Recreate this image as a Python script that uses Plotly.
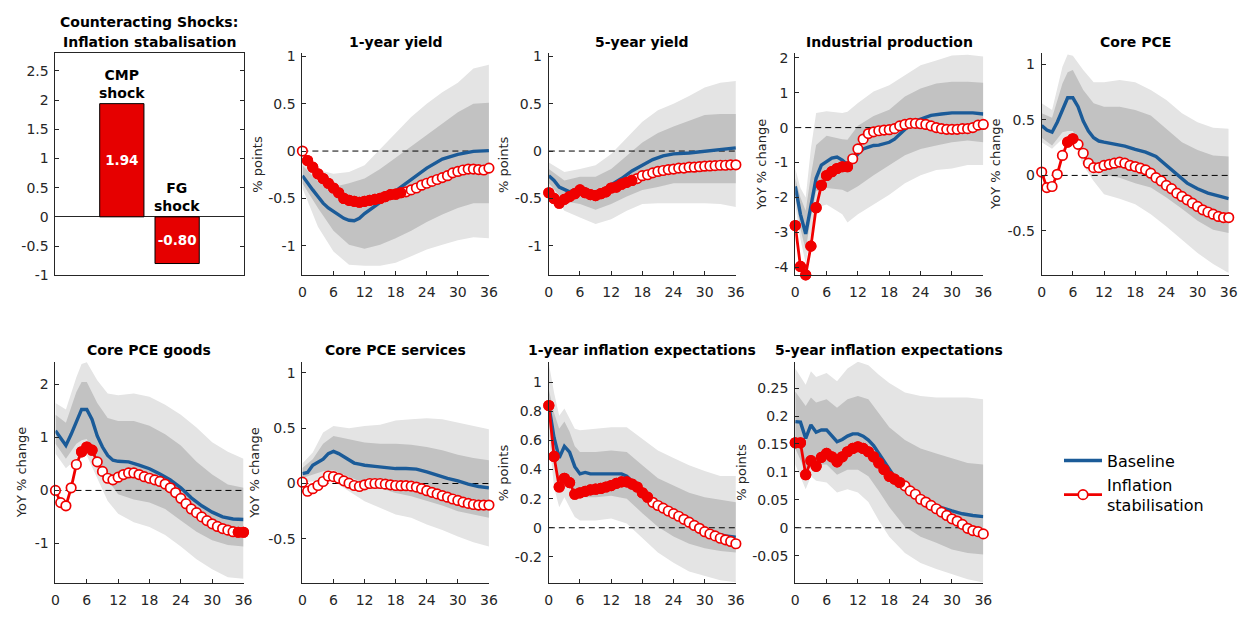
import plotly.graph_objects as go

W, H = 1259, 617
months = list(range(37))
x_ticks = [0, 6, 12, 18, 24, 30, 36]

# ---------------- Counteracting shocks (bar panel) ----------------
shock_labels = ["CMP<br>shock", "FG<br>shock"]
shock_values = [1.94, -0.80]
shock_pos = [1, 2]
shock_ticks = [-1, -0.5, 0, 0.5, 1, 1.5, 2, 2.5]

# ---------------- 1-year yield ----------------
y1_base_x = [0, 1, 2, 3, 4, 5, 6, 7, 8, 9, 10, 11, 12, 14, 16, 18, 20, 22, 24, 27, 30, 33, 36]
y1_base = [-0.26, -0.34, -0.41, -0.48, -0.55, -0.60, -0.64, -0.67, -0.71, -0.73, -0.735, -0.71, -0.66,
           -0.58, -0.50, -0.41, -0.34, -0.26, -0.18, -0.085, -0.035, -0.003, 0.005]
y1_band_x = [0, 3, 6, 9, 12, 15, 18, 21, 24, 27, 30, 33, 36]
y1_out_hi = [-0.085, -0.20, -0.24, -0.22, -0.15, 0.02, 0.19, 0.36, 0.50, 0.62, 0.72, 0.87, 0.91]
y1_in_hi = [-0.15, -0.32, -0.38, -0.34, -0.29, -0.19, -0.07, 0.05, 0.17, 0.29, 0.41, 0.50, 0.51]
y1_in_lo = [-0.34, -0.60, -0.84, -0.99, -1.03, -0.99, -0.92, -0.84, -0.75, -0.67, -0.60, -0.55, -0.55]
y1_out_lo = [-0.39, -0.80, -1.06, -1.20, -1.21, -1.21, -1.18, -1.11, -1.04, -0.99, -0.94, -0.91, -0.92]
y1_stab = [0.0, -0.10, -0.17, -0.24, -0.29, -0.34, -0.39, -0.44, -0.50, -0.52, -0.53, -0.54, -0.53,
           -0.52, -0.51, -0.50, -0.48, -0.46, -0.455, -0.44, -0.43, -0.41, -0.39, -0.36, -0.34,
           -0.32, -0.30, -0.28, -0.26, -0.23, -0.215, -0.20, -0.19, -0.19, -0.195, -0.20, -0.18]
y1_filled = list(range(1, 20))

# ---------------- 5-year yield ----------------
y5_base_x = [0, 1, 2, 3, 4, 5, 6, 7, 8, 9, 10, 11, 12, 14, 16, 18, 20, 22, 24, 27, 30, 33, 36]
y5_base = [-0.26, -0.31, -0.38, -0.41, -0.43, -0.41, -0.39, -0.40, -0.43, -0.43, -0.42, -0.39, -0.36,
           -0.29, -0.21, -0.15, -0.09, -0.05, -0.03, -0.02, 0.0, 0.017, 0.034]
y5_band_x = [0, 3, 6, 9, 12, 15, 18, 21, 24, 27, 30, 33, 36]
y5_out_hi = [-0.12, -0.22, -0.19, -0.15, -0.03, 0.14, 0.31, 0.43, 0.50, 0.58, 0.67, 0.72, 0.74]
y5_in_hi = [-0.19, -0.31, -0.27, -0.27, -0.19, -0.05, 0.09, 0.19, 0.26, 0.32, 0.38, 0.39, 0.39]
y5_in_lo = [-0.34, -0.53, -0.56, -0.62, -0.56, -0.48, -0.41, -0.38, -0.34, -0.34, -0.34, -0.34, -0.34]
y5_out_lo = [-0.41, -0.63, -0.70, -0.77, -0.72, -0.63, -0.56, -0.55, -0.55, -0.55, -0.55, -0.56, -0.59]
y5_stab = [-0.44, -0.50, -0.55, -0.51, -0.48, -0.45, -0.41, -0.44, -0.46, -0.47, -0.45, -0.43, -0.39,
           -0.38, -0.35, -0.33, -0.31, -0.29, -0.26, -0.25, -0.23, -0.215, -0.205, -0.195, -0.19,
           -0.18, -0.18, -0.17, -0.17, -0.165, -0.16, -0.157, -0.154, -0.15, -0.15, -0.145, -0.145]
y5_filled = list(range(0, 17))

# ---------------- Industrial production ----------------
ip_base_x = [0, 1, 2, 3, 4, 5, 6, 7, 8, 9, 10, 11, 12, 13, 14, 15, 16, 17, 18, 19, 20, 21, 22, 23, 24,
             26, 28, 30, 32, 34, 36]
ip_base = [-1.68, -2.48, -3.04, -2.20, -1.45, -1.07, -0.96, -0.87, -0.84, -0.93, -1.06, -0.93, -0.75,
           -0.61, -0.56, -0.51, -0.50, -0.47, -0.42, -0.33, -0.19, -0.05, 0.09, 0.19, 0.25,
           0.35, 0.39, 0.42, 0.42, 0.42, 0.39]
ip_band_x = [0, 1, 2, 3, 4, 6, 9, 10, 12, 15, 18, 21, 24, 27, 30, 33, 36]
ip_out_hi = [-1.17, -1.73, -2.0, -0.6, 0.42, 0.47, 0.42, 0.45, 0.70, 1.03, 1.21, 1.50, 1.78, 1.92, 2.06, 2.08, 2.03]
ip_in_hi = [-1.45, -2.0, -2.38, -1.36, -0.5, -0.23, -0.33, -0.35, 0.05, 0.33, 0.51, 0.89, 1.12, 1.26, 1.31, 1.31, 1.28]
ip_in_lo = [-1.92, -2.9, -3.50, -2.57, -1.82, -1.73, -1.78, -1.85, -1.68, -1.36, -1.07, -0.79, -0.61, -0.51, -0.42, -0.37, -0.42]
ip_out_lo = [-2.20, -3.2, -3.88, -3.04, -2.29, -2.20, -2.48, -2.71, -2.48, -2.20, -1.92, -1.59, -1.36, -1.21, -1.17, -1.07, -1.07]
ip_stab = [-2.80, -3.97, -4.21, -3.39, -2.29, -1.65, -1.37, -1.26, -1.17, -1.12, -1.12, -0.89, -0.61,
           -0.33, -0.17, -0.12, -0.09, -0.07, -0.06, -0.03, 0.05, 0.09, 0.12, 0.12, 0.11, 0.09,
           0.05, 0.0, -0.03, -0.05, -0.05, -0.05, -0.03, -0.03, 0.0, 0.07, 0.09]
ip_filled = list(range(0, 11))

# ---------------- Core PCE ----------------
pce_base_x = [0, 1, 2, 3, 4, 5, 6, 7, 8, 9, 10, 11, 12, 14, 16, 18, 20, 22, 24, 26, 28, 30, 32, 34, 36]
pce_base = [0.45, 0.41, 0.39, 0.48, 0.59, 0.70, 0.70, 0.62, 0.49, 0.40, 0.34, 0.31, 0.30,
            0.285, 0.265, 0.235, 0.21, 0.17, 0.09, 0.006, -0.07, -0.12, -0.16, -0.185, -0.21]
pce_band_x = [0, 2, 4, 5, 6, 8, 10, 12, 15, 18, 21, 24, 27, 30, 33, 36]
pce_out_hi = [0.65, 0.59, 0.98, 1.09, 1.08, 0.95, 0.84, 0.84, 0.86, 0.84, 0.77, 0.68, 0.56, 0.48, 0.43, 0.42]
pce_in_hi = [0.56, 0.52, 0.83, 0.93, 0.95, 0.77, 0.65, 0.62, 0.62, 0.59, 0.54, 0.42, 0.30, 0.23, 0.18, 0.17]
pce_in_lo = [0.34, 0.27, 0.39, 0.40, 0.40, 0.23, 0.09, 0.006, -0.02, -0.07, -0.11, -0.20, -0.30, -0.41, -0.49, -0.52]
pce_out_lo = [0.30, 0.24, 0.33, 0.33, 0.33, 0.09, -0.05, -0.17, -0.21, -0.26, -0.35, -0.46, -0.58, -0.70, -0.80, -0.88]
pce_stab = [0.03, -0.11, -0.10, 0.01, 0.18, 0.30, 0.33, 0.28, 0.20, 0.11, 0.07, 0.07, 0.09, 0.10,
            0.11, 0.12, 0.11, 0.09, 0.08, 0.065, 0.05, 0.02, -0.02, -0.05, -0.09, -0.12, -0.16,
            -0.19, -0.22, -0.25, -0.28, -0.31, -0.33, -0.35, -0.37, -0.38, -0.38]
pce_filled = [5, 6]

# ---------------- Core PCE goods ----------------
gds_base_x = [0, 1, 2, 3, 4, 5, 6, 7, 8, 9, 10, 11, 12, 14, 16, 18, 20, 22, 24, 26, 28, 30, 32, 34, 36]
gds_base = [1.13, 1.00, 0.85, 1.06, 1.31, 1.53, 1.53, 1.34, 1.03, 0.82, 0.66, 0.57, 0.55,
            0.54, 0.48, 0.41, 0.31, 0.20, 0.05, -0.14, -0.29, -0.41, -0.50, -0.54, -0.55]
gds_band_x = [0, 2, 4, 5, 6, 8, 10, 12, 15, 18, 21, 24, 27, 30, 33, 36]
gds_out_hi = [1.65, 1.53, 2.14, 2.39, 2.42, 2.08, 1.83, 1.80, 1.83, 1.77, 1.62, 1.43, 1.19, 0.91, 0.73, 0.60]
gds_in_hi = [1.43, 1.28, 1.86, 2.05, 2.05, 1.65, 1.37, 1.31, 1.31, 1.22, 1.06, 0.85, 0.54, 0.30, 0.11, 0.05]
gds_in_lo = [0.88, 0.60, 0.88, 0.95, 0.97, 0.54, 0.20, -0.07, -0.17, -0.23, -0.35, -0.57, -0.78, -0.94, -1.03, -1.06]
gds_out_lo = [0.70, 0.42, 0.60, 0.64, 0.66, 0.23, -0.20, -0.44, -0.60, -0.69, -0.84, -1.06, -1.30, -1.49, -1.64, -1.67]
gds_stab = [0.0, -0.23, -0.29, 0.05, 0.49, 0.73, 0.82, 0.76, 0.54, 0.36, 0.23, 0.20, 0.25, 0.30,
            0.33, 0.33, 0.30, 0.26, 0.23, 0.20, 0.17, 0.12, 0.05, -0.04, -0.15, -0.25, -0.35,
            -0.42, -0.50, -0.57, -0.63, -0.68, -0.72, -0.75, -0.78, -0.79, -0.79]
gds_filled = [5, 6, 7, 35, 36]

# ---------------- Core PCE services ----------------
srv_base_x = [0, 1, 2, 3, 4, 5, 6, 7, 8, 9, 10, 11, 12, 14, 16, 18, 20, 22, 24, 26, 28, 30, 32, 34, 36]
srv_base = [0.09, 0.10, 0.165, 0.195, 0.22, 0.27, 0.29, 0.27, 0.24, 0.21, 0.185, 0.175, 0.165,
            0.155, 0.145, 0.135, 0.135, 0.13, 0.105, 0.075, 0.047, 0.024, -0.006, -0.027, -0.04]
srv_band_x = [0, 2, 4, 6, 9, 12, 15, 18, 21, 24, 27, 30, 33, 36]
srv_out_hi = [0.18, 0.28, 0.46, 0.52, 0.50, 0.52, 0.53, 0.57, 0.58, 0.59, 0.58, 0.55, 0.52, 0.49]
srv_in_hi = [0.14, 0.22, 0.36, 0.43, 0.40, 0.37, 0.36, 0.36, 0.35, 0.33, 0.30, 0.26, 0.23, 0.21]
srv_in_lo = [0.05, 0.08, 0.11, 0.12, 0.06, 0.003, -0.04, -0.085, -0.115, -0.16, -0.20, -0.25, -0.28, -0.31]
srv_out_lo = [0.003, 0.02, 0.03, 0.02, -0.07, -0.16, -0.22, -0.28, -0.31, -0.37, -0.42, -0.48, -0.53, -0.57]
srv_stab = [0.012, -0.07, -0.047, -0.018, 0.018, 0.068, 0.062, 0.047, 0.024, 0.003, -0.018, -0.027,
            -0.012, 0.0, 0.0, 0.0, -0.006, -0.012, -0.018, -0.02, -0.02, -0.024, -0.032, -0.047,
            -0.065, -0.08, -0.094, -0.11, -0.124, -0.14, -0.153, -0.168, -0.18, -0.19, -0.195,
            -0.195, -0.195]
srv_filled = []

# ---------------- 1-year inflation expectations ----------------
ie1_base_x = [0, 1, 2, 3, 4, 5, 6, 7, 8, 10, 12, 14, 15, 16, 17, 18, 20, 22, 24, 26, 28, 30, 32, 34, 36]
ie1_base = [0.84, 0.62, 0.48, 0.56, 0.52, 0.42, 0.37, 0.38, 0.37, 0.37, 0.37, 0.37, 0.355, 0.32,
            0.29, 0.25, 0.19, 0.14, 0.10, 0.063, 0.025, -0.011, -0.038, -0.056, -0.065]
ie1_band_x = [0, 1, 2, 3, 4, 5, 6, 9, 12, 15, 18, 21, 24, 27, 30, 33, 36]
ie1_out_hi = [1.13, 0.93, 0.77, 0.82, 0.75, 0.68, 0.67, 0.68, 0.69, 0.69, 0.61, 0.53, 0.48, 0.43, 0.39, 0.355, 0.355]
ie1_in_hi = [0.95, 0.79, 0.68, 0.73, 0.66, 0.56, 0.52, 0.52, 0.53, 0.52, 0.43, 0.34, 0.29, 0.24, 0.21, 0.19, 0.175]
ie1_in_lo = [0.73, 0.43, 0.32, 0.37, 0.31, 0.23, 0.21, 0.21, 0.22, 0.20, 0.10, 0.007, -0.06, -0.11, -0.14, -0.16, -0.17]
ie1_out_lo = [0.64, 0.28, 0.14, 0.21, 0.14, 0.074, 0.05, 0.05, 0.063, 0.03, -0.07, -0.17, -0.24, -0.30, -0.33, -0.36, -0.375]
ie1_stab = [0.84, 0.49, 0.28, 0.34, 0.31, 0.23, 0.24, 0.25, 0.26, 0.265, 0.27, 0.28, 0.29, 0.305,
            0.315, 0.315, 0.30, 0.28, 0.24, 0.21, 0.175, 0.153, 0.135, 0.115, 0.097, 0.079,
            0.058, 0.038, 0.016, -0.004, -0.027, -0.043, -0.056, -0.072, -0.083, -0.094, -0.11]
ie1_filled = list(range(0, 20))

# ---------------- 5-year inflation expectations ----------------
ie5_base_x = [0, 1, 2, 3, 4, 5, 6, 7, 8, 9, 10, 11, 12, 13, 14, 15, 16, 17, 18, 19, 20,
              22, 24, 26, 28, 30, 32, 34, 36]
ie5_base = [0.19, 0.189, 0.16, 0.184, 0.171, 0.175, 0.175, 0.165, 0.154, 0.158, 0.164, 0.168,
            0.168, 0.164, 0.157, 0.147, 0.133, 0.119, 0.104, 0.091, 0.079, 0.063, 0.051, 0.043,
            0.036, 0.030, 0.025, 0.022, 0.020]
ie5_band_x = [0, 2, 3, 4, 6, 8, 10, 12, 14, 16, 18, 21, 24, 27, 30, 33, 36]
ie5_out_hi = [0.285, 0.256, 0.28, 0.27, 0.277, 0.262, 0.285, 0.297, 0.291, 0.274, 0.259, 0.242, 0.236, 0.233, 0.233, 0.233, 0.230]
ie5_in_hi = [0.244, 0.218, 0.233, 0.224, 0.23, 0.215, 0.23, 0.236, 0.23, 0.206, 0.18, 0.157, 0.142, 0.133, 0.125, 0.116, 0.113]
ie5_in_lo = [0.142, 0.101, 0.122, 0.113, 0.113, 0.095, 0.104, 0.104, 0.092, 0.066, 0.037, 0.002, -0.016, -0.027, -0.039, -0.045, -0.048]
ie5_out_lo = [0.113, 0.069, 0.092, 0.084, 0.081, 0.063, 0.069, 0.063, 0.046, 0.013, -0.016, -0.045, -0.063, -0.074, -0.083, -0.092, -0.098]
ie5_stab = [0.152, 0.152, 0.095, 0.12, 0.11, 0.126, 0.133, 0.127, 0.118, 0.127, 0.136, 0.142,
            0.145, 0.142, 0.136, 0.127, 0.116, 0.104, 0.092, 0.087, 0.081, 0.075, 0.066, 0.06,
            0.051, 0.046, 0.04, 0.034, 0.028, 0.022, 0.016, 0.012, 0.006, -0.001, -0.005,
            -0.007, -0.011]
ie5_filled = list(range(0, 21))

# ---------------- styling ----------------
FONT = "DejaVu Sans, Verdana, sans-serif"
TEXT = "#262626"
BLUE = "#1b5b98"
RED = "#f00000"
BAR_RED = "#e60000"
LIGHT = "#e4e4e4"
DARK = "#c2c2c2"

COLS = [(52, 242), (301.5, 490), (550.5, 739.5), (799.5, 989.5), (1048.5, 1237.5)]
ROWS = [(49.5, 276), (364.5, 590.5)]
TITLE_Y = [38, 352]


def xdom(c):
    return [COLS[c][0] / W, COLS[c][1] / W]


def ydom(r):
    return [1 - ROWS[r][1] / H, 1 - ROWS[r][0] / H]


def tick_text(vals):
    out = []
    for v in vals:
        s = f"{v:.2f}".rstrip("0").rstrip(".")
        out.append("0" if s in ("-0", "") else s)
    return out


panels = [
    dict(title="1-year yield", ylabel="% points", col=1, row=0, ylab_x=256,
         yrange=[-1.31, 1.03], yticks=[-1, -0.5, 0, 0.5, 1],
         base_x=y1_base_x, base=y1_base, band_x=y1_band_x, out_lo=y1_out_lo, out_hi=y1_out_hi,
         in_lo=y1_in_lo, in_hi=y1_in_hi, stab=y1_stab, filled=y1_filled),
    dict(title="5-year yield", ylabel="% points", col=2, row=0, ylab_x=505,
         yrange=[-1.31, 1.03], yticks=[-1, -0.5, 0, 0.5, 1],
         base_x=y5_base_x, base=y5_base, band_x=y5_band_x, out_lo=y5_out_lo, out_hi=y5_out_hi,
         in_lo=y5_in_lo, in_hi=y5_in_hi, stab=y5_stab, filled=y5_filled),
    dict(title="Industrial production", ylabel="YoY % change", col=3, row=0, ylab_x=765,
         yrange=[-4.22, 2.12], yticks=[-4, -3, -2, -1, 0, 1, 2],
         base_x=ip_base_x, base=ip_base, band_x=ip_band_x, out_lo=ip_out_lo, out_hi=ip_out_hi,
         in_lo=ip_in_lo, in_hi=ip_in_hi, stab=ip_stab, filled=ip_filled),
    dict(title="Core PCE", ylabel="YoY % change", col=4, row=0, ylab_x=1002,
         yrange=[-0.9, 1.1], yticks=[-0.5, 0, 0.5, 1],
         base_x=pce_base_x, base=pce_base, band_x=pce_band_x, out_lo=pce_out_lo, out_hi=pce_out_hi,
         in_lo=pce_in_lo, in_hi=pce_in_hi, stab=pce_stab, filled=pce_filled),
    dict(title="Core PCE goods", ylabel="YoY % change", col=0, row=1, ylab_x=18,
         yrange=[-1.75, 2.43], yticks=[-1, 0, 1, 2],
         base_x=gds_base_x, base=gds_base, band_x=gds_band_x, out_lo=gds_out_lo, out_hi=gds_out_hi,
         in_lo=gds_in_lo, in_hi=gds_in_hi, stab=gds_stab, filled=gds_filled),
    dict(title="Core PCE services", ylabel="YoY % change", col=1, row=1, ylab_x=253,
         yrange=[-0.9, 1.1], yticks=[-0.5, 0, 0.5, 1],
         base_x=srv_base_x, base=srv_base, band_x=srv_band_x, out_lo=srv_out_lo, out_hi=srv_out_hi,
         in_lo=srv_in_lo, in_hi=srv_in_hi, stab=srv_stab, filled=srv_filled),
    dict(title="1-year inflation expectations", ylabel="% points", col=2, row=1, ylab_x=505,
         yrange=[-0.38, 1.14], yticks=[-0.2, 0, 0.2, 0.4, 0.6, 0.8, 1],
         base_x=ie1_base_x, base=ie1_base, band_x=ie1_band_x, out_lo=ie1_out_lo, out_hi=ie1_out_hi,
         in_lo=ie1_in_lo, in_hi=ie1_in_hi, stab=ie1_stab, filled=ie1_filled),
    dict(title="5-year inflation expectations", ylabel="% points", col=3, row=1, ylab_x=745,
         yrange=[-0.099, 0.297], yticks=[-0.05, 0, 0.05, 0.1, 0.15, 0.2, 0.25],
         base_x=ie5_base_x, base=ie5_base, band_x=ie5_band_x, out_lo=ie5_out_lo, out_hi=ie5_out_hi,
         in_lo=ie5_in_lo, in_hi=ie5_in_hi, stab=ie5_stab, filled=ie5_filled),
]

fig = go.Figure()
layout = dict(
    width=W, height=H, margin=dict(l=0, r=0, t=0, b=0),
    paper_bgcolor="white", plot_bgcolor="white",
    font=dict(family=FONT, color=TEXT, size=14),
    showlegend=True,
)
annotations = []

axis_common = dict(showgrid=False, zeroline=False, showline=True, linecolor=TEXT, linewidth=1,
                   ticks="inside", ticklen=4, tickcolor=TEXT, tickwidth=1,
                   tickfont=dict(family=FONT, size=14, color=TEXT))

# ---- bar panel (axis 1) ----
fig.add_trace(go.Bar(
    x=shock_pos, y=shock_values, width=0.8,
    marker=dict(color=BAR_RED, line=dict(color="#000000", width=1)),
    text=[f"<b>{v:.2f}</b>" for v in shock_values], textposition="inside",
    insidetextanchor="middle", textangle=0, constraintext="none",
    textfont=dict(color="white", size=13.5, family=FONT),
    showlegend=False, hoverinfo="skip", xaxis="x", yaxis="y"))
layout["xaxis"] = dict(domain=xdom(0), range=[-0.2, 3.2], anchor="y", showgrid=False,
                       zeroline=False, showline=True, mirror=True, linecolor=TEXT,
                       linewidth=1, ticks="", showticklabels=False)
layout["yaxis"] = dict(axis_common, domain=ydom(0), range=[-1, 2.8], anchor="x", mirror="ticks",
                       tickvals=shock_ticks, ticktext=tick_text(shock_ticks),
                       ticklabelstandoff=3,
                       zeroline=True, zerolinecolor=TEXT, zerolinewidth=1)
for pos, val, lab in zip(shock_pos, shock_values, shock_labels):
    annotations.append(dict(x=pos, y=max(val, 0), xref="x", yref="y", text=f"<b>{lab}</b>",
                            showarrow=False, yanchor="bottom", xanchor="center", yshift=1,
                            font=dict(size=14, color="#000000", family=FONT)))
for line_text, line_y in (("Counteracting Shocks:", 17), ("Inflation stabalisation", 38)):
    annotations.append(dict(x=sum(COLS[0]) / 2 / W, y=1 - line_y / H, xref="paper", yref="paper",
                            text=f"<b>{line_text}</b>", showarrow=False,
                            xanchor="center", yanchor="middle",
                            font=dict(size=14, color="#000000", family=FONT)))

# ---- impulse-response panels (axes 2..9) ----
for k, p in enumerate(panels, start=2):
    xa, ya = f"x{k}", f"y{k}"
    bx = p["band_x"]
    fig.add_trace(go.Scatter(x=bx + bx[::-1], y=p["out_hi"] + p["out_lo"][::-1], fill="toself",
                             fillcolor=LIGHT, line=dict(width=0), mode="lines",
                             showlegend=False, hoverinfo="skip", xaxis=xa, yaxis=ya))
    fig.add_trace(go.Scatter(x=bx + bx[::-1], y=p["in_hi"] + p["in_lo"][::-1], fill="toself",
                             fillcolor=DARK, line=dict(width=0), mode="lines",
                             showlegend=False, hoverinfo="skip", xaxis=xa, yaxis=ya))
    fig.add_trace(go.Scatter(x=[x_ticks[0], x_ticks[-1]], y=[0, 0], mode="lines",
                             line=dict(color="#000000", width=1, dash="6px,4px"),
                             showlegend=False, hoverinfo="skip", xaxis=xa, yaxis=ya))
    fig.add_trace(go.Scatter(x=p["base_x"], y=p["base"], mode="lines",
                             line=dict(color=BLUE, width=3.4), name="Baseline",
                             showlegend=(k == 2), legendrank=1, cliponaxis=False,
                             xaxis=xa, yaxis=ya))
    fig.add_trace(go.Scatter(x=months, y=p["stab"], mode="lines+markers",
                             line=dict(color=RED, width=2.8),
                             marker=dict(symbol="circle", size=9.5, color="white",
                                         line=dict(color=RED, width=1.7)),
                             name="Inflation<br>stabilisation", showlegend=(k == 2),
                             legendrank=2, cliponaxis=False, xaxis=xa, yaxis=ya))
    if p["filled"]:
        fig.add_trace(go.Scatter(x=[months[i] for i in p["filled"]],
                                 y=[p["stab"][i] for i in p["filled"]], mode="markers",
                                 marker=dict(symbol="circle", size=9.5, color=RED,
                                             line=dict(color=RED, width=1.7)),
                                 showlegend=False, cliponaxis=False, xaxis=xa, yaxis=ya))

    layout[f"xaxis{k}"] = dict(axis_common, domain=xdom(p["col"]), range=[0, 36], anchor=ya,
                               tickvals=x_ticks, ticktext=[str(t) for t in x_ticks],
                               ticklabelstandoff=4)
    layout[f"yaxis{k}"] = dict(axis_common, domain=ydom(p["row"]), range=p["yrange"], anchor=xa,
                               tickvals=p["yticks"], ticktext=tick_text(p["yticks"]),
                               ticklabelstandoff=3)
    annotations.append(dict(x=sum(COLS[p["col"]]) / 2 / W, y=1 - TITLE_Y[p["row"]] / H,
                            xref="paper", yref="paper", text=f"<b>{p['title']}</b>",
                            showarrow=False, xanchor="center", yanchor="middle",
                            font=dict(size=14, color="#000000", family=FONT)))
    annotations.append(dict(x=p["ylab_x"] / W, y=1 - sum(ROWS[p["row"]]) / 2 / H,
                            xref="paper", yref="paper", text=p["ylabel"], textangle=-90,
                            showarrow=False, xanchor="center", yanchor="middle",
                            font=dict(size=13, color=TEXT, family=FONT)))

layout["annotations"] = annotations
layout["legend"] = dict(x=1066 / W, y=1 - 448 / H, xanchor="left", yanchor="top",
                        bgcolor="rgba(0,0,0,0)", font=dict(size=16, color="#000000", family=FONT),
                        valign="middle", tracegroupgap=0, itemwidth=38)
fig.update_layout(**layout)
fig.write_html("out.html")
